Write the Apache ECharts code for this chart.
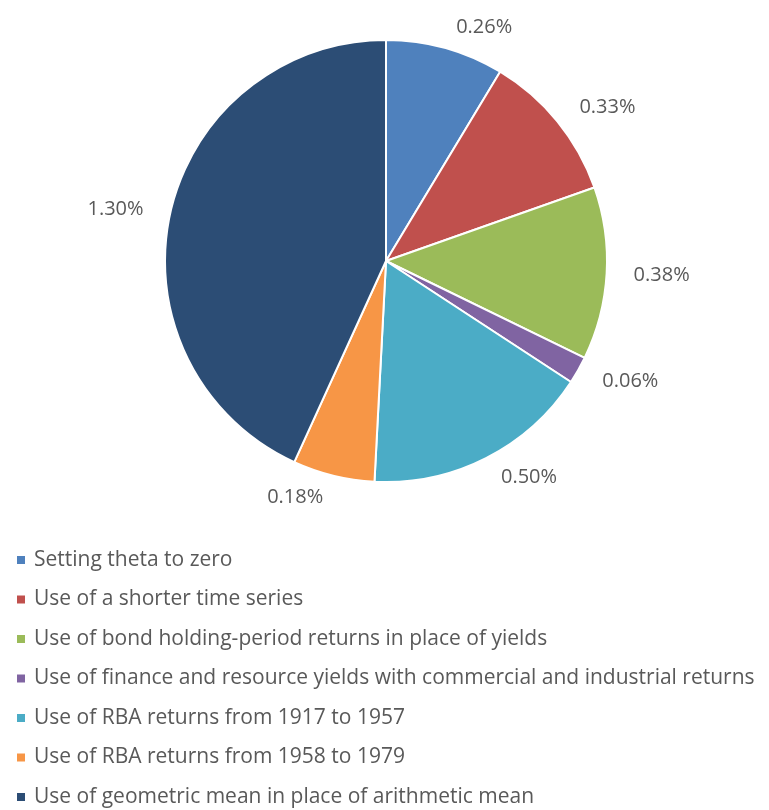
<!DOCTYPE html>
<html>
<head>
<meta charset="utf-8">
<script src="https://cdn.jsdelivr.net/npm/echarts@6/dist/echarts.min.js"></script>
<style>
  html, body { margin: 0; padding: 0; background: #fff; }
  #chart { width: 769px; height: 810px; }
</style>
</head>
<body>
<div id="chart"></div>
<script>
const categories = [
  "Setting theta to zero",
  "Use of a shorter time series",
  "Use of bond holding-period returns in place of yields",
  "Use of finance and resource yields with commercial and industrial returns",
  "Use of RBA returns from 1917 to 1957",
  "Use of RBA returns from 1958 to 1979",
  "Use of geometric mean in place of arithmetic mean"
];
const values = [0.26, 0.33, 0.38, 0.06, 0.50, 0.18, 1.30];
const colors = ["#4F81BD", "#C0504D", "#9BBB59", "#8064A2", "#4BACC6", "#F79646", "#2C4D75"];

const chart = echarts.init(document.getElementById("chart"));
const option = {
  animation: false,
  color: colors,
  textStyle: { fontFamily: "Open Sans", color: "#595959" },
  legend: {
    orient: "vertical",
    left: 10,
    top: 544,
    height: 300,
    itemWidth: 10,
    itemHeight: 10,
    itemGap: 17.5,
    icon: "rect",
    textStyle: { fontSize: 21, color: "#595959", lineHeight: 22, padding: [0, 0, 0, 3] },
    data: categories
  },
  series: [
    {
      type: "pie",
      center: [386, 261],
      radius: [0, 221],
      startAngle: 90,
      clockwise: true,
      avoidLabelOverlap: false,
      itemStyle: { borderColor: "#fff", borderWidth: 2 },
      label: {
        position: "outside",
        fontSize: 20,
        color: "#595959",
        formatter: p => p.value.toFixed(2) + "%"
      },
      labelLine: { show: false, length: 22, length2: 0 },
      emphasis: { disabled: true },
      data: categories.map((c, i) => ({ name: c, value: values[i] }))
    }
  ]
};
chart.setOption(option);
</script>
</body>
</html>
